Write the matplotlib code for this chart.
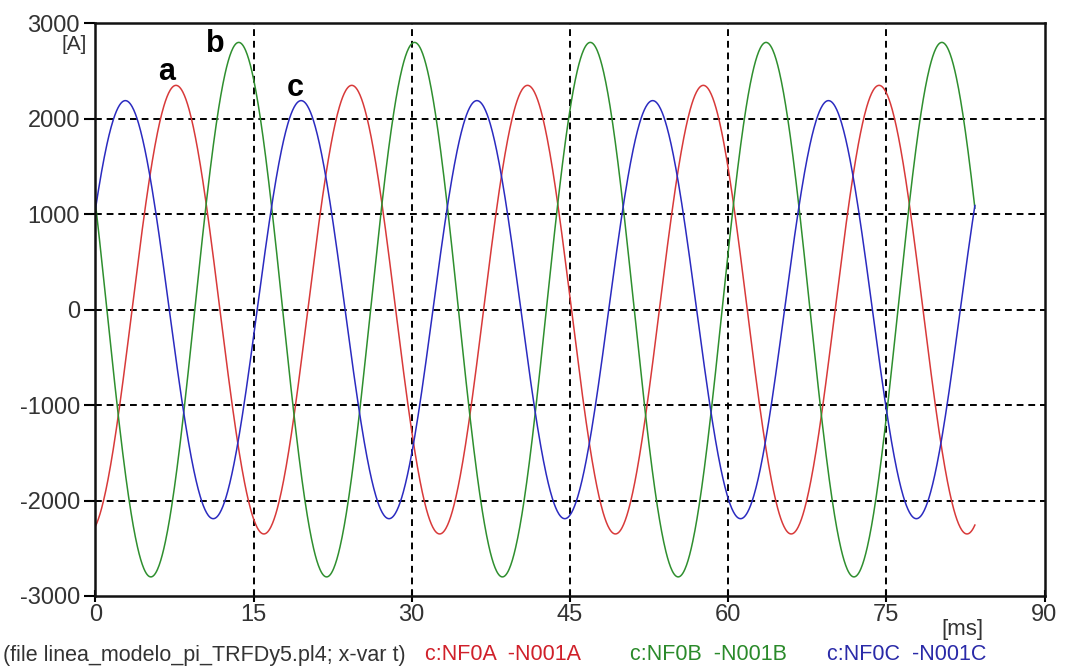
import numpy as np
import matplotlib
matplotlib.use("Agg")
import matplotlib.pyplot as plt

# valores (corrientes de fase, 60 Hz)
frecuencia = 60.0            # Hz
t_final = 83.4               # ms
fases = ["a", "b", "c"]
amplitudes = [2350, 2800, 2190]      # A
t_pico = [7.65, 13.6, 2.85]          # ms, instante del primer maximo
colores = ["#d83a3a", "#2f8f2f", "#2b2bc0"]
colores_txt = ["#d0202a", "#2a8a2a", "#2a2aa8"]
leyendas = ["c:NF0A  -N001A", "c:NF0B  -N001B", "c:NF0C  -N001C"]
leyenda_x = [425, 630, 827]          # px
etiqueta_pos = [(167, 72), (215, 44), (295, 88)]  # px en la figura

xticks = [0, 15, 30, 45, 60, 75, 90]
yticks = [-3000, -2000, -1000, 0, 1000, 2000, 3000]

plt.rcParams["font.family"] = ["Liberation Sans", "DejaVu Sans"]
plt.rcParams["axes.unicode_minus"] = False

W, H = 1067, 672
fig = plt.figure(figsize=(W / 100, H / 100), dpi=100)
izq, der, arr, aba = 95.3, 1044.5, 23.3, 596.0
ax = fig.add_axes([izq / W, 1 - aba / H, (der - izq) / W, (aba - arr) / H])

t = np.arange(0, t_final + 1e-9, 0.05)
periodo = 1000.0 / frecuencia
for amp, tp, col in zip(amplitudes, t_pico, colores):
    ax.plot(t, amp * np.cos(2 * np.pi * (t - tp) / periodo), color=col, lw=1.1)

ax.set_xlim(0, 90)
ax.set_ylim(-3000, 3000)
ax.set_xticks(xticks)
ax.set_yticks(yticks)
ax.tick_params(axis="y", direction="out", length=8, width=1.5,
               labelsize=17, labelcolor="#333333", pad=3)
ax.tick_params(axis="x", direction="inout", length=8, width=1.5,
               labelsize=17, labelcolor="#333333", pad=2)

for s in ax.spines.values():
    s.set_linewidth(1.8)
    s.set_color("#111111")

# rejilla discontinua solo en valores interiores
for xv in xticks[1:-1]:
    ax.axvline(xv, color="black", lw=1.4, ls=(0, (3.5, 2.5)), zorder=0)
for yv in yticks[1:-1]:
    ax.axhline(yv, color="black", lw=1.4, ls=(0, (3.5, 2.5)), zorder=0)

# etiquetas a, b, c
for nombre, (px, py) in zip(fases, etiqueta_pos):
    fig.text(px / W, 1 - py / H, nombre, fontsize=22, fontweight="bold",
             ha="center", va="center", color="black")

fig.text(74 / W, 1 - 44 / H, "[A]", fontsize=15, ha="center", va="center",
         color="#333333")
fig.text(962 / W, 1 - 629 / H, "[ms]", fontsize=16, ha="center", va="center",
         color="#333333")

fig.text(3 / W, 1 - 655 / H, "(file linea_modelo_pi_TRFDy5.pl4; x-var t)",
         fontsize=15.5, ha="left", va="center", color="#333333")
for txt, lx, c in zip(leyendas, leyenda_x, colores_txt):
    fig.text(lx / W, 1 - 655 / H, txt, fontsize=15.5, ha="left",
             va="center", color=c)

fig.savefig("out.png", dpi=100)
